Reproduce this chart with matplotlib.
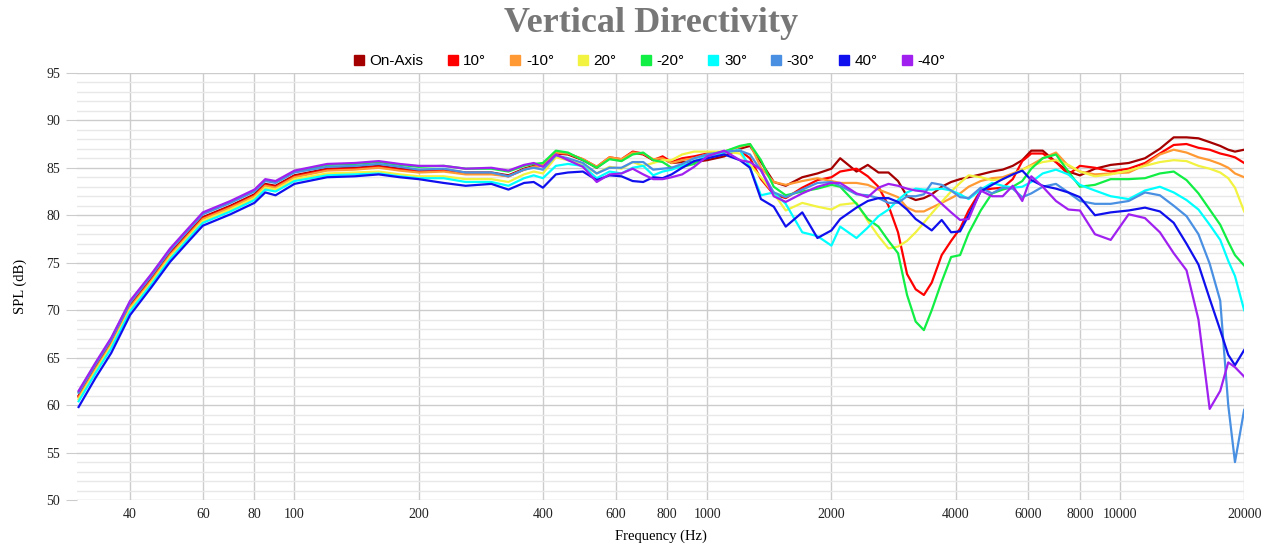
import matplotlib
matplotlib.use("Agg")
import matplotlib.pyplot as plt
from matplotlib.lines import Line2D
from matplotlib.ticker import MultipleLocator, NullLocator

# frequency points (Hz)
freq = [30, 33, 36, 40, 45, 50, 55, 60, 70, 80, 85, 90, 100,
        120, 140, 160, 180, 200, 230, 260, 300, 330, 360, 380,
        400, 430, 460, 500, 540, 580, 620, 660, 700, 740, 780, 820, 870, 930, 1000, 1100, 1200,
        1270, 1350, 1450, 1550, 1700, 1850, 2000,
        2100, 2300, 2450, 2600, 2750, 2900, 3050, 3200, 3350, 3500, 3700, 3900, 4100,
        4300, 4600, 4900, 5200, 5500, 5800, 6100, 6500, 7000, 7500, 8000,
        8700, 9500, 10500, 11500, 12500, 13500, 14500, 15500, 16500, 17500, 18300, 19000, 20000]

on_axis = [61.0, 64.0, 66.6, 70.5, 73.3, 76.0, 78.0, 79.8, 81.0, 82.2, 83.3, 83.1, 84.2,
           84.9, 85.0, 85.2, 84.9, 84.7, 84.8, 84.5, 84.5, 84.2, 84.9, 85.2,
           85.2, 86.5, 86.4, 85.8, 85.0, 86.0, 85.8, 86.6, 86.4, 85.8, 86.0, 85.5, 85.6, 85.6, 85.8, 86.2, 87.0,
           87.3, 85.6, 83.5, 83.1, 84.0, 84.4, 84.9,
           86.0, 84.6, 85.3, 84.5, 84.5, 83.6, 82.0, 81.6, 81.8, 82.2, 83.0, 83.5, 83.8,
           84.0, 84.3, 84.6, 84.8, 85.2, 85.8, 86.8, 86.8, 85.6, 84.6, 84.2,
           84.9, 85.3, 85.5, 86.0, 87.0, 88.2, 88.2, 88.1, 87.7, 87.3, 86.9, 86.7, 86.9]

deg_p10 = [60.9, 63.9, 66.5, 70.4, 73.2, 75.9, 77.9, 79.7, 80.9, 82.1, 83.2, 83.0, 84.1,
           84.8, 84.9, 85.1, 84.8, 84.6, 84.7, 84.4, 84.4, 84.1, 84.8, 85.1,
           85.2, 86.5, 86.5, 85.9, 85.1, 86.1, 85.9, 86.7, 86.5, 85.8, 86.2, 85.6, 86.0, 86.2, 86.5, 86.6, 86.8,
           86.0, 83.8, 82.2, 81.8, 82.9, 83.7, 84.0,
           84.6, 84.9, 84.1, 83.0, 81.0, 78.2, 73.8, 72.2, 71.6, 72.9, 75.8, 77.3, 78.6,
           80.5, 82.6, 82.8, 82.9, 83.8, 85.7, 86.5, 86.5, 85.6, 84.3, 85.2,
           85.0, 84.6, 84.9, 85.5, 86.5, 87.4, 87.5, 87.1, 86.9, 86.5, 86.3, 86.1, 85.5]

deg_m10 = [60.8, 63.8, 66.4, 70.3, 73.1, 75.8, 77.8, 79.6, 80.8, 82.0, 83.1, 82.9, 84.0,
           84.7, 84.8, 85.0, 84.7, 84.5, 84.6, 84.3, 84.3, 84.1, 84.8, 85.1,
           85.3, 86.6, 86.5, 85.9, 85.1, 86.1, 85.9, 86.6, 86.5, 85.9, 86.0, 85.5, 85.8, 86.0, 86.4, 86.7, 87.2,
           87.5, 85.0, 83.5, 83.2, 83.6, 83.9, 83.6,
           83.4, 83.4, 83.2, 82.7, 82.3, 81.9, 80.8, 80.4, 80.4, 80.8, 81.3, 81.8, 82.3,
           83.0, 83.6, 83.9, 84.0, 84.4, 84.8, 85.3, 86.0, 86.6, 85.2, 84.6,
           84.3, 84.4, 84.5, 85.3, 86.4, 86.9, 86.6, 86.1, 85.8, 85.4, 85.0, 84.4, 84.0]

deg_p20 = [60.6, 63.6, 66.2, 70.1, 72.9, 75.6, 77.6, 79.4, 80.6, 81.8, 82.9, 82.7, 83.8,
           84.4, 84.5, 84.6, 84.3, 84.1, 84.1, 83.8, 83.8, 83.5, 84.3, 84.6,
           84.4, 86.1, 85.8, 85.3, 84.4, 85.1, 84.9, 85.6, 85.2, 85.5, 85.8, 85.8, 86.4, 86.7, 86.7, 86.7, 86.5,
           85.3, 84.0, 82.3, 80.5, 81.3, 80.9, 80.6,
           81.1, 81.3, 79.4, 77.8, 76.5, 76.7, 77.3, 78.2, 79.2, 80.2, 81.4, 82.5, 83.4,
           84.2, 84.0, 83.7, 83.8, 84.3, 84.8, 85.2, 85.6, 85.8, 85.3, 84.6,
           84.1, 84.3, 84.7, 85.2, 85.6, 85.8, 85.7, 85.2, 84.9, 84.5, 83.9, 82.9, 80.4]

deg_m20 = [61.4, 64.4, 67.0, 70.9, 73.7, 76.4, 78.4, 80.2, 81.4, 82.6, 83.7, 83.5, 84.6,
           85.3, 85.4, 85.6, 85.3, 85.1, 85.2, 84.9, 84.9, 84.6, 85.2, 85.4,
           85.5, 86.8, 86.6, 85.8, 85.0, 85.9, 85.7, 86.4, 86.6, 85.8, 85.6, 85.0, 85.1, 85.4, 86.3, 86.7, 87.3,
           87.5, 85.8, 83.0, 82.1, 82.5, 82.8, 83.2,
           83.0, 81.2, 79.6, 78.8, 77.3, 76.0, 71.6, 68.8, 67.9, 70.0, 73.0, 75.6, 75.8,
           78.1, 80.5, 82.3, 82.7, 83.0, 83.6, 84.9, 86.0, 86.4, 84.6, 83.0,
           83.2, 83.8, 83.8, 83.9, 84.4, 84.6, 83.7, 82.3, 80.6, 79.0, 77.2, 75.8, 74.7]

deg_p30 = [60.4, 63.4, 66.0, 69.9, 72.7, 75.4, 77.4, 79.2, 80.4, 81.6, 82.7, 82.5, 83.6,
           84.2, 84.3, 84.4, 84.1, 83.9, 83.9, 83.5, 83.5, 83.1, 83.9, 84.2,
           83.9, 85.2, 85.4, 85.2, 83.9, 84.6, 84.4, 85.0, 85.2, 84.2, 84.6, 84.8, 85.2, 85.7, 86.2, 86.6, 86.9,
           85.0, 82.1, 82.4, 81.2, 78.2, 77.8, 76.8,
           78.8, 77.6, 78.7, 79.9, 80.6, 81.6, 82.4, 82.8, 82.7, 82.7, 82.8, 82.6, 82.2,
           81.7, 82.7, 83.4, 83.1, 82.9, 83.0, 83.5, 84.4, 84.8, 84.3, 83.2,
           82.6, 82.0, 81.7, 82.6, 83.0, 82.4, 81.6, 80.6, 79.0, 77.4, 75.2, 73.6, 70.0]

deg_m30 = [61.3, 64.3, 66.9, 70.8, 73.6, 76.3, 78.3, 80.1, 81.3, 82.5, 83.6, 83.4, 84.5,
           85.1, 85.2, 85.4, 85.1, 84.8, 84.9, 84.5, 84.5, 84.1, 84.8, 85.0,
           84.8, 86.3, 86.0, 85.5, 84.4, 85.0, 85.0, 85.6, 85.6, 84.8, 84.9, 85.0, 85.4, 86.0, 86.4, 86.7, 86.8,
           86.4, 84.7, 82.4, 81.9, 82.7, 83.4, 83.5,
           83.1, 82.2, 82.1, 81.8, 81.3, 81.3, 82.0, 82.0, 82.2, 83.4, 83.2, 82.6, 81.9,
           81.8, 82.9, 82.3, 82.9, 82.8, 81.9, 82.3, 83.0, 83.3, 82.4, 81.5,
           81.2, 81.2, 81.5, 82.4, 82.1, 81.0, 79.9, 78.0, 74.9, 71.0, 60.0, 54.0, 59.5]

deg_p40 = [59.8, 62.9, 65.5, 69.5, 72.4, 75.1, 77.1, 78.9, 80.1, 81.3, 82.4, 82.1, 83.3,
           84.0, 84.1, 84.3, 84.0, 83.8, 83.4, 83.1, 83.3, 82.7, 83.4, 83.5,
           82.9, 84.3, 84.5, 84.6, 83.7, 84.2, 84.1, 83.6, 83.5, 84.0, 83.9, 84.3, 85.0, 85.7, 86.0, 86.4, 85.8,
           85.0, 81.7, 80.9, 78.8, 80.3, 77.6, 78.4,
           79.6, 80.8, 81.5, 81.8, 81.8, 81.4, 80.6, 79.6, 79.0, 78.4, 79.5, 78.2, 78.3,
           80.0, 82.5, 83.2, 83.8, 84.3, 84.7, 83.7, 83.1, 82.8, 82.4, 81.9,
           80.0, 80.3, 80.5, 80.8, 80.4, 79.2, 77.0, 74.8, 71.2, 67.9, 65.3, 64.2, 65.8]

deg_m40 = [61.5, 64.5, 67.1, 71.0, 73.8, 76.5, 78.5, 80.3, 81.5, 82.7, 83.8, 83.6, 84.7,
           85.4, 85.5, 85.7, 85.4, 85.2, 85.2, 84.9, 85.0, 84.7, 85.3, 85.5,
           85.1, 86.4, 85.8, 85.1, 83.5, 84.3, 84.4, 84.9, 84.3, 83.8, 83.8, 84.0, 84.3, 85.1, 86.2, 86.8, 85.8,
           85.6, 84.8, 82.0, 81.4, 82.3, 83.0, 83.4,
           83.4, 82.3, 81.9, 82.9, 83.3, 83.1, 82.8, 82.6, 82.5, 82.2, 81.2, 80.3, 79.5,
           79.6, 82.6, 82.0, 82.0, 83.1, 81.5, 84.1, 83.0, 81.5, 80.6, 80.5,
           78.0, 77.4, 80.1, 79.7, 78.2, 76.0, 74.2, 69.0, 59.6, 61.5, 64.5, 64.0, 63.0]

labels = ["On-Axis", "10°", "-10°", "20°", "-20°", "30°", "-30°", "40°", "-40°"]
colors = ["#a50000", "#ff0000", "#ff9933", "#f2f240", "#11ee44",
          "#00ffff", "#4a90e2", "#1010ee", "#a020f0"]
series = [on_axis, deg_p10, deg_m10, deg_p20, deg_m20, deg_p30, deg_m30, deg_p40, deg_m40]

xticks = [40, 60, 80, 100, 200, 400, 600, 800, 1000, 2000, 4000, 6000, 8000, 10000, 20000]

fig = plt.figure(figsize=(12.8, 5.6), dpi=100)
ax = fig.add_axes([0.060, 0.107, 0.912, 0.763])

for vals, col in zip(series, colors):
    ax.plot(freq, vals, color=col, linewidth=1.6, solid_joinstyle="round")

ax.set_xscale("log")
ax.set_xlim(29.7, 20000)
ax.set_ylim(50, 95)
ax.set_xticks(xticks)
ax.set_xticklabels([str(t) for t in xticks])
ax.xaxis.set_minor_locator(NullLocator())
ax.yaxis.set_major_locator(MultipleLocator(5))
ax.yaxis.set_minor_locator(MultipleLocator(1))

ax.grid(True, which="major", color="#cccccc", linewidth=1)
ax.grid(True, which="minor", axis="y", color="#e8e8e8", linewidth=1)
ax.set_axisbelow(True)
for s in ax.spines.values():
    s.set_visible(False)
ax.tick_params(axis="y", which="major", length=8, color="#cccccc", pad=4)
ax.tick_params(axis="y", which="minor", length=0)
ax.tick_params(axis="x", length=0, pad=6)
for lab in ax.get_xticklabels() + ax.get_yticklabels():
    lab.set_fontfamily("Liberation Serif")
    lab.set_fontsize(10)
    lab.set_color("#222222")

ax.set_xlabel("Frequency (Hz)", fontfamily="Liberation Serif", fontsize=10.5, labelpad=6)
ax.set_ylabel("SPL (dB)", fontfamily="Liberation Serif", fontsize=10.5, labelpad=14)

fig.text(0.509, 0.958, "Vertical Directivity", ha="center", va="center",
         fontfamily="Liberation Serif", fontweight="bold", fontsize=26, color="#777777")

handles = [Line2D([], [], marker="s", linestyle="none", markersize=7,
                  markerfacecolor=c, markeredgecolor=c) for c in colors]
fig.legend(handles, labels, loc="center", bbox_to_anchor=(0.507, 0.891), ncol=9,
           frameon=False, handletextpad=0.3, columnspacing=1.5, handlelength=0.8,
           prop={"family": "Liberation Sans", "size": 11})

fig.savefig("out.png", dpi=100)
